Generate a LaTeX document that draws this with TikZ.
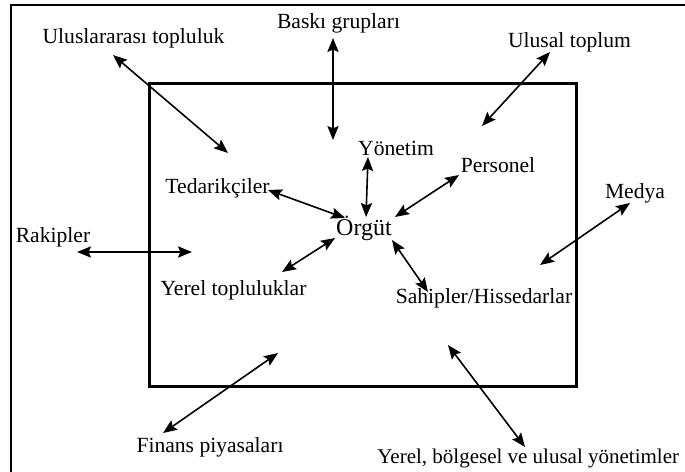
\documentclass[tikz,border=0pt]{standalone}
\usepackage{fontspec}
\setmainfont{Liberation Serif}
\usetikzlibrary{arrows.meta}

\begin{document}
\begin{tikzpicture}[x=0.5pt, y=-0.5pt,
    every node/.style={font=\fontsize{10.8}{12}\selectfont, inner sep=0pt, anchor=base},
    ok/.style={<->, >={Stealth[length=7pt, width=5.6pt, inset=1.2pt]}, line width=0.8pt}]
    \useasboundingbox (0,0) rectangle (685,471);

    % Dış çerçeve
    \draw[line width=1pt] (11,480) -- (11,5) -- (690,5);

    % Örgüt sınırı
    \draw[line width=1.5pt] (149.5,83) rectangle (576,386);

    % Örgüt ve iç çevre
    \node (orgut) at (364,235) {\fontsize{12}{13}\selectfont Örgüt};
    \node (yonetim) at (396,155) {Yönetim};
    \node (personel) at (498,172) {Personel};
    \node (tedarik) at (217.5,193) {Tedarikçiler};
    \node (yerel) at (233.5,295) {Yerel topluluklar};
    \node (sahip) at (484,303) {Sahipler/Hissedarlar};

    % Dış çevre
    \node (uluslararasi) at (133.5,43) {Uluslararası topluluk};
    \node (baski) at (338.5,28) {Baskı grupları};
    \node (ulusal) at (569.5,47) {Ulusal toplum};
    \node (medya) at (635,198) {Medya};
    \node (rakip) at (53,242) {Rakipler};
    \node (finans) at (210,452) {Finans piyasaları};
    \node[anchor=base west, font=\fontsize{10.5}{12}\selectfont] (yonetimler) at (377,463) {Yerel, bölgesel ve ulusal yönetimler};

    % Ok uçları
    \coordinate (u1) at (113,55);  \coordinate (u2) at (228,153);
    \coordinate (b1) at (333,38);  \coordinate (b2) at (333,140);
    \coordinate (n1) at (550,52);  \coordinate (n2) at (482,126);
    \coordinate (m1) at (630,203); \coordinate (m2) at (540,265);
    \coordinate (r1) at (77,252);  \coordinate (r2) at (192,252);
    \coordinate (t1) at (268,190); \coordinate (t2) at (345,218);
    \coordinate (y1) at (368,157); \coordinate (y2) at (366,217);
    \coordinate (p1) at (459,175); \coordinate (p2) at (395,217);
    \coordinate (l1) at (282,272); \coordinate (l2) at (335,238);
    \coordinate (s1) at (392,240); \coordinate (s2) at (428,292);
    \coordinate (f1) at (163,433); \coordinate (f2) at (278,353);
    \coordinate (g1) at (448,345); \coordinate (g2) at (525,447);

    % Oklar
    \draw[ok] (u1) -- (u2);
    \draw[ok] (b1) -- (b2);
    \draw[ok] (n1) -- (n2);
    \draw[ok] (m1) -- (m2);
    \draw[ok] (r1) -- (r2);
    \draw[ok] (t1) -- (t2);
    \draw[ok] (y1) -- (y2);
    \draw[ok] (p1) -- (p2);
    \draw[ok] (l1) -- (l2);
    \draw[ok] (s1) -- (s2);
    \draw[ok] (f1) -- (f2);
    \draw[ok] (g1) -- (g2);
\end{tikzpicture}
\end{document}
